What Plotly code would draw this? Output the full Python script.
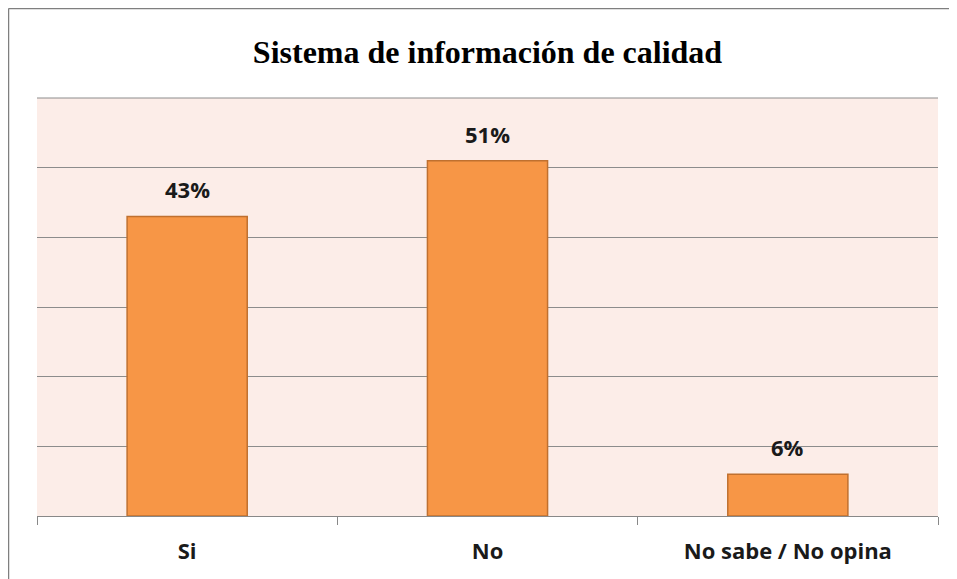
import plotly.graph_objects as go

categories = ["Si", "No", "No sabe / No opina"]
values = [43, 51, 6]
labels = ["43%", "51%", "6%"]

# page has an 8px body margin; compensate so the plot area lands at x 37..938, y 98..516
OFF = 8
W, H = 957 - OFF, 579 - OFF
L, R, T, B = 37 - OFF, 19, 98 - OFF, 63
pw, ph = W - L - R, H - T - B

LABEL_FONT = dict(family="Open Sans", size=22, color="#1a1a1a", weight="bold")

fig = go.Figure()
fig.add_trace(go.Bar(
    x=categories, y=values, width=0.4,
    marker=dict(color="#F79646", line=dict(color="#C0702F", width=1.5)),
    hoverinfo="skip",
))

for c, v, t in zip(categories, values, labels):
    fig.add_annotation(x=c, y=v, text=t, showarrow=False, yshift=27,
                       font=LABEL_FONT, xref="x", yref="y")

def px(x):
    return (x - L) / pw
def py(y):
    return 1 - (y - T) / ph

# outer frame (top and left edges)
fig.add_shape(type="line", xref="paper", yref="paper", x0=px(0.5), x1=px(0.5), y0=py(H + 5), y1=py(0.5),
              line=dict(color="#7f7f7f", width=1.5))
fig.add_shape(type="line", xref="paper", yref="paper", x0=px(0.5), x1=px(W + 5), y0=py(0.5), y1=py(0.5),
              line=dict(color="#7f7f7f", width=1.5))
# top gridline at the range edge
fig.add_shape(type="line", xref="paper", yref="paper", x0=0, x1=1, y0=1, y1=1,
              line=dict(color="#8c8c8c", width=1), layer="below")

fig.update_layout(
    width=W, height=H,
    margin=dict(l=L, r=R, t=T, b=B),
    paper_bgcolor="white",
    plot_bgcolor="#FCEDE8",
    showlegend=False,
    title=dict(text="<b>Sistema de información de calidad</b>", x=(L + pw / 2) / W, xanchor="center",
               y=1 - (52 - OFF) / H, yanchor="middle",
               font=dict(family="Liberation Serif", size=32, color="black")),
    xaxis=dict(tickson="boundaries", ticks="outside", ticklen=8, tickcolor="#888888",
               showline=True, linecolor="#888888", linewidth=1, showgrid=False,
               tickfont=LABEL_FONT, ticklabelstandoff=16),
    yaxis=dict(range=[0, 60], dtick=10, showticklabels=False, showgrid=True,
               gridcolor="#8c8c8c", gridwidth=1, zeroline=False, showline=False),
)

fig.write_html("out.html")
